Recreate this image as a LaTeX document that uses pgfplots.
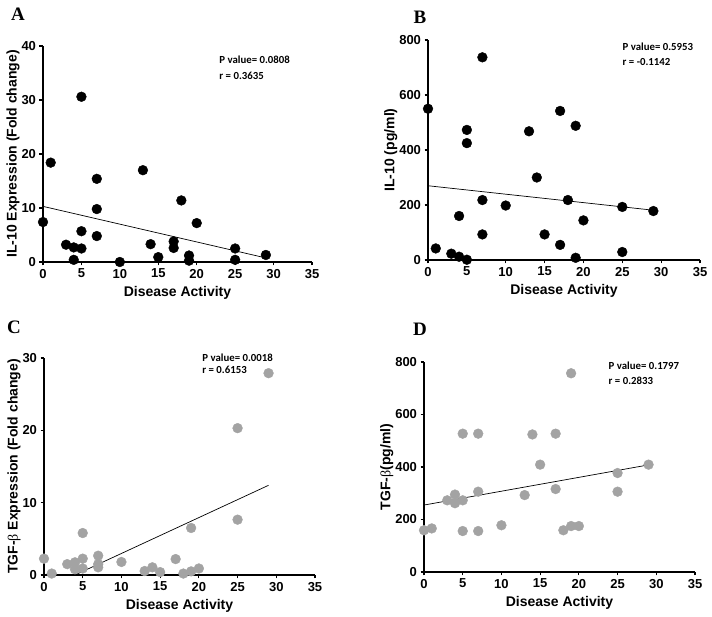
\documentclass[border=0pt]{standalone}
\usepackage{pgfplots}
\pgfplotsset{compat=1.18}
\usepackage{fontspec}
\setmainfont{Liberation Sans}
\newfontfamily\letterfont{Liberation Serif}
\newfontfamily\annfont{Carlito}
\definecolor{dotgray}{HTML}{A3A3A3}
\tikzset{ann/.style={anchor=west, font=\annfont\fontsize{10.8}{10.8}\selectfont\bfseries}}
\pgfplotsset{
  panel/.style={
    scale only axis,
    axis lines=left,
    axis line style={-, line width=1.3pt},
    every tick/.style={black, line width=1.1pt},
    tick align=outside,
    major tick length=3.5pt,
    xmin=0, xmax=35, ymin=0,
    xtick={0,5,10,15,20,25,30,35},
    tick label style={font=\fontsize{13}{13}\selectfont\bfseries},
    /pgf/number format/assume math mode=true,
    label style={font=\fontsize{14}{14}\selectfont\bfseries},
    xlabel={Disease Activity},
    xlabel shift=1pt,
    ylabel shift=-5pt,
    clip=false,
    anchor=south west,
  },
  blackdots/.style={only marks, mark=*, mark size=4.9pt, mark options={fill=black, draw=black}},
  graydots/.style={only marks, mark=*, mark size=4.9pt, mark options={fill=dotgray, draw=dotgray}},
  fitline/.style={black, line width=0.7pt, mark=none},
}
\begin{document}
\begin{tikzpicture}[x=1pt,y=1pt]
\useasboundingbox (0,0) rectangle (712,617);
% Panel letters
\node[font=\letterfont\fontsize{19}{19}\selectfont\bfseries] at (18,603) {A};
\node[font=\letterfont\fontsize{19}{19}\selectfont\bfseries] at (420,600) {B};
\node[font=\letterfont\fontsize{19}{19}\selectfont\bfseries] at (14,290) {C};
\node[font=\letterfont\fontsize{19}{19}\selectfont\bfseries] at (420,288) {D};

% Panel A
\begin{axis}[panel, at={(43pt,355pt)}, width=269pt, height=216pt,
  ymax=40, ytick={0,10,20,30,40},
  ylabel={IL-10 Expression (Fold change)}]
\addplot[blackdots] coordinates {
(0,7.4) (1,18.4) (5,30.6) (3,3.2) (4,2.7) (4,0.4) (5,5.7) (5,2.5)
(7,15.4) (7,9.8) (7,4.8) (10,0) (13,17.0) (14,3.3) (15,0.9) (17,3.8)
(17,2.6) (18,11.4) (19,1.2) (19,0.25) (20,7.2) (25,2.5) (25,0.4) (29,1.3)};
\addplot[fitline] coordinates {(0,10.3) (29,0.75)};
\node[ann] at (axis cs:22.5,37.4) {P value= 0.0808};
\node[ann] at (axis cs:22.5,34.4) {r = 0.3635};
\end{axis}

% Panel B
\begin{axis}[panel, at={(428pt,357pt)}, width=272pt, height=220pt,
  ymax=800, ytick={0,200,400,600,800},
  ylabel={IL-10 (pg/ml)}]
\addplot[blackdots] coordinates {
(0,550) (1,42) (3,23) (4,160) (4,12) (5,473) (5,425) (5,1)
(7,737) (7,218) (7,93) (10,198) (13,468) (14,300) (15,93) (17,542)
(17,55) (18,218) (19,488) (19,8) (20,144) (25,193) (25,29) (29,178)};
\addplot[fitline] coordinates {(0,270) (29,181)};
\node[ann] at (axis cs:24.6,776) {P value= 0.5953};
\node[ann] at (axis cs:24.6,721) {r = -0.1142};
\end{axis}

% Panel C
\begin{axis}[panel, at={(44pt,42pt)}, width=271pt, height=217pt,
  ymax=30, ytick={0,10,20,30},
  ylabel={TGF-{\letterfont\mdseries β} Expression (Fold change)}]
\addplot[graydots] coordinates {
(0,2.26) (1,0.2) (3,1.5) (4,1.75) (4,0.8) (5,5.8) (5,2.26) (5,0.9)
(7,2.67) (7,1.5) (7,1.06) (10,1.8) (13,0.55) (14,1.06) (15,0.4) (17,2.2)
(18,0.2) (19,0.5) (19,6.5) (20,0.9) (25,20.3) (25,7.65) (29,27.9)};
\addplot[fitline] coordinates {(4,0) (29,12.4)};
\node[ann] at (axis cs:20.0,30.0) {P value= 0.0018};
\node[ann] at (axis cs:20.0,28.3) {r = 0.6153};
\end{axis}

% Panel D
\begin{axis}[panel, at={(424pt,45pt)}, width=271pt, height=210pt,
  ymax=800, ytick={0,200,400,600,800},
  ylabel={TGF-{\letterfont\mdseries β}(pg/ml)}]
\addplot[graydots] coordinates {
(0,159) (1,166) (3,273) (4,295) (4,262) (5,527) (5,273) (5,156)
(7,527) (7,306) (7,156) (10,178) (13,293) (14,524) (15,409) (17,527)
(17,316) (18,159) (19,757) (19,175) (20,175) (25,377) (25,306) (29,409)};
\addplot[fitline] coordinates {(0,255) (29,408)};
\node[ann] at (axis cs:23.4,787) {P value= 0.1797};
\node[ann] at (axis cs:23.4,730) {r = 0.2833};
\end{axis}
\end{tikzpicture}
\end{document}
